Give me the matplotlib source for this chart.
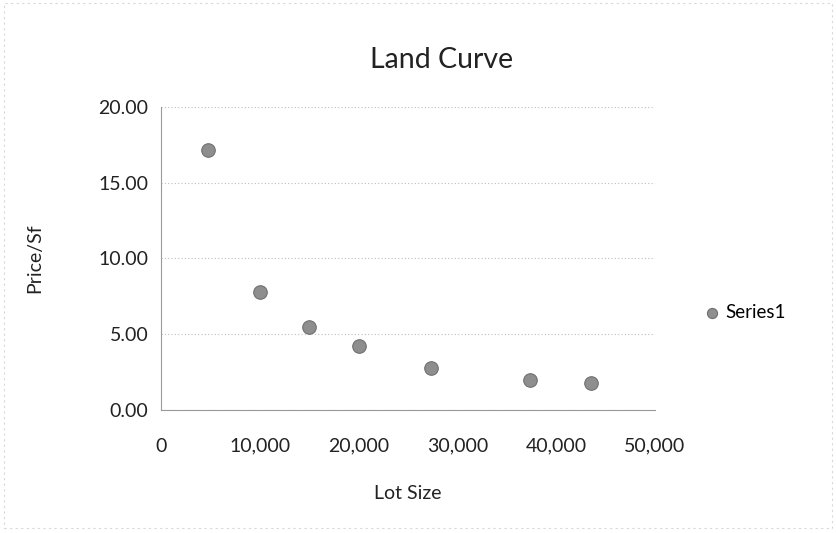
import matplotlib
matplotlib.use("Agg")
import matplotlib.pyplot as plt
from matplotlib.ticker import FuncFormatter, MultipleLocator

plt.rcParams['font.family'] = ['Lato', 'DejaVu Sans']

lot_size = [4800, 10000, 15000, 20000, 27300, 37300, 43560]
price_sf = [17.15, 7.8, 5.5, 4.2, 2.8, 2.0, 1.8]
series_name = "Series1"

fig = plt.figure(figsize=(8.36, 5.33), dpi=100)
ax = fig.add_axes([0.1926, 0.2308, 0.5909, 0.5685])

ax.scatter(lot_size, price_sf, s=95, color='#8e8e8e', edgecolors='#707070',
           linewidths=0.8, zorder=3, label=series_name)

ax.set_xlim(0, 50000)
ax.set_ylim(0, 20)
ax.xaxis.set_major_locator(MultipleLocator(10000))
ax.yaxis.set_major_locator(MultipleLocator(5))
ax.xaxis.set_major_formatter(FuncFormatter(lambda v, p: f"{int(v):,}"))
ax.yaxis.set_major_formatter(FuncFormatter(lambda v, p: f"{v:.2f}"))
ax.grid(axis='y', color='#bdbdbd', linestyle=(0, (1, 2)), linewidth=0.8)
ax.set_axisbelow(True)
for s in ['top', 'right']:
    ax.spines[s].set_visible(False)
for s in ['left', 'bottom']:
    ax.spines[s].set_color('#9a9a9a')
    ax.spines[s].set_linewidth(0.8)
ax.tick_params(length=0, labelsize=14, colors='#222222')
ax.tick_params(axis='x', pad=20)
ax.tick_params(axis='y', pad=9)

ax.set_xlabel("Lot Size", fontsize=14, color='#222222', labelpad=22)
ax.set_ylabel("Price/Sf", fontsize=14, color='#222222', labelpad=40)
fig.text(0.528, 0.887, "Land Curve", ha='center', va='center', fontsize=20.5, color='#222222')

leg = fig.legend(loc='center left', bbox_to_anchor=(0.82, 0.413), frameon=False,
                 fontsize=13.5, handletextpad=-0.3, markerscale=0.75, borderaxespad=0)

fig.patches.append(plt.Rectangle((0.005, 0.01), 0.99, 0.985, transform=fig.transFigure,
                                 fill=False, edgecolor='#d8d8d8', linewidth=0.8,
                                 linestyle=(0, (2, 3))))
fig.savefig("out.png", dpi=100)
